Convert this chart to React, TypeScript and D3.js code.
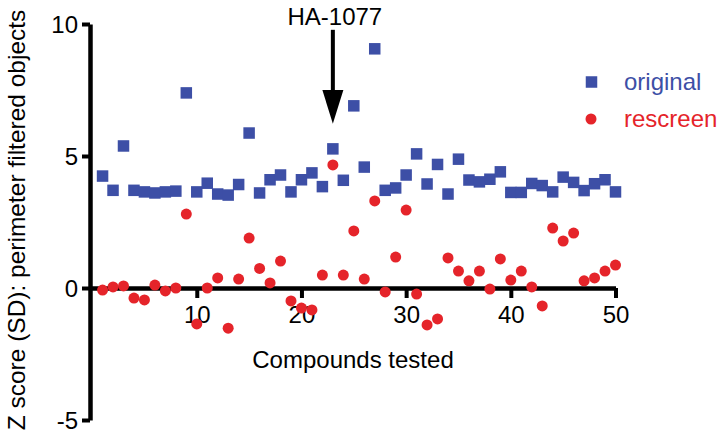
import React, { useEffect, useRef } from "react";
import * as d3 from "d3";

const compounds = d3.range(1, 51);

const original = [
  4.24, 3.7, 5.38, 3.7, 3.64, 3.6, 3.64, 3.67, 7.39, 3.64,
  3.97, 3.56, 3.52, 3.92, 5.87, 3.6, 4.1, 4.28, 3.64, 4.1,
  4.36, 3.84, 5.27, 4.08, 6.9, 4.58, 9.06, 3.7, 3.79, 4.28,
  5.08, 3.94, 4.68, 3.56, 4.88, 4.09, 4.02, 4.12, 4.4, 3.62,
  3.62, 3.96, 3.88, 3.64, 4.2, 4.0, 3.69, 3.95, 4.1, 3.64,
];

const rescreen = [
  -0.08, 0.04, 0.08, -0.38, -0.45, 0.11, -0.11, 0.0, 2.8, -1.36,
  0.0, 0.38, -1.52, 0.34, 1.89, 0.74, 0.19, 1.02, -0.49, -0.76,
  -0.83, 0.49, 4.66, 0.49, 2.16, 0.34, 3.3, -0.15, 1.17, 2.95,
  -0.23, -1.4, -1.17, 1.14, 0.64, 0.27, 0.64, -0.04, 1.1, 0.3,
  0.64, 0.04, -0.68, 2.27, 1.78, 2.08, 0.27, 0.38, 0.64, 0.87,
];

const xTicks = [10, 20, 30, 40, 50];
const yTicks = [-5, 0, 5, 10];

const BLUE = "#3d4fa6";
const RED = "#e5242a";
const FONT = "Arial, 'Liberation Sans', Helvetica, sans-serif";

const App = () => {
  const svgRef = useRef<SVGSVGElement>(null);

  useEffect(() => {
    const width = 725;
    const height = 436;
    const svg = d3.select(svgRef.current);
    svg.selectAll("*").remove();
    svg.attr("width", width).attr("height", height);

    const x = d3.scaleLinear().domain([-0.2, 50]).range([90, 615.5]);
    const y = d3.scaleLinear().domain([-5, 10]).range([420, 24]);

    // y axis
    const yAxis = d3
      .axisLeft(y)
      .tickValues(yTicks)
      .tickFormat((d) => String(d))
      .tickSize(8)
      .tickPadding(4)
      .tickSizeOuter(0);
    const yg = svg
      .append("g")
      .attr("transform", `translate(${x(-0.2)},0)`)
      .call(yAxis);
    yg.select(".domain").attr("stroke", "#000").attr("stroke-width", 4.5);
    yg.selectAll(".tick line").attr("stroke", "#000").attr("stroke-width", 4);
    yg.selectAll("text")
      .style("font-size", "24px")
      .style("font-family", FONT)
      .attr("fill", "#000")
      .attr("dy", "0.36em");

    // x axis at y = 0
    const xAxis = d3
      .axisBottom(x)
      .tickValues(xTicks)
      .tickSize(10)
      .tickPadding(8)
      .tickSizeOuter(0);
    const xg = svg
      .append("g")
      .attr("transform", `translate(0,${y(0)})`)
      .call(xAxis);
    xg.select(".domain").attr("stroke", "#000").attr("stroke-width", 4.5);
    xg.selectAll(".tick line").attr("stroke", "#000").attr("stroke-width", 4);
    xg.selectAll("text")
      .style("font-size", "24px")
      .style("font-family", FONT)
      .attr("fill", "#000");

    // axis titles
    svg
      .append("text")
      .attr("x", 353)
      .attr("y", 368)
      .attr("text-anchor", "middle")
      .style("font-size", "24px")
      .style("font-family", FONT)
      .text("Compounds tested");

    svg
      .append("text")
      .attr("transform", `translate(25,${(y(-5) + y(10)) / 2 - 2}) rotate(-90)`)
      .attr("text-anchor", "middle")
      .style("font-size", "24.5px")
      .style("font-family", FONT)
      .text("Z score (SD): perimeter filtered objects");

    // original (squares)
    const sq = 11.5;
    svg
      .append("g")
      .selectAll("rect")
      .data(compounds)
      .enter()
      .append("rect")
      .attr("x", (d) => x(d) - sq / 2)
      .attr("y", (d, i) => y(original[i]) - sq / 2)
      .attr("width", sq)
      .attr("height", sq)
      .attr("fill", BLUE);

    // rescreen (circles)
    svg
      .append("g")
      .selectAll("circle")
      .data(compounds)
      .enter()
      .append("circle")
      .attr("cx", (d) => x(d))
      .attr("cy", (d, i) => y(rescreen[i]))
      .attr("r", 5.5)
      .attr("fill", RED);

    // HA-1077 arrow
    const ax = x(23);
    svg
      .append("line")
      .attr("x1", ax)
      .attr("x2", ax)
      .attr("y1", y(9.78))
      .attr("y2", y(7.4))
      .attr("stroke", "#000")
      .attr("stroke-width", 4);
    svg
      .append("path")
      .attr(
        "d",
        `M${ax - 10.5},${y(7.5)}L${ax + 10.5},${y(7.5)}L${ax},${y(6.22)}Z`
      )
      .attr("fill", "#000");
    svg
      .append("text")
      .attr("x", ax + 2)
      .attr("y", 25)
      .attr("text-anchor", "middle")
      .style("font-size", "24px")
      .style("font-family", FONT)
      .text("HA-1077");

    // legend
    const legend = svg.append("g").attr("transform", "translate(591,0)");
    legend
      .append("rect")
      .attr("x", -sq / 2 + 0.5)
      .attr("y", 82 - sq / 2)
      .attr("width", sq)
      .attr("height", sq)
      .attr("fill", BLUE);
    legend
      .append("circle")
      .attr("cx", 0)
      .attr("cy", 119)
      .attr("r", 5.5)
      .attr("fill", RED);
    legend
      .append("text")
      .attr("x", 33)
      .attr("y", 90)
      .attr("fill", BLUE)
      .style("font-size", "24px")
      .style("font-family", FONT)
      .text("original");
    legend
      .append("text")
      .attr("x", 33)
      .attr("y", 127)
      .attr("fill", RED)
      .style("font-size", "24px")
      .style("font-family", FONT)
      .text("rescreen");
  }, []);

  return (
    <div style={{ position: "absolute", left: 0, top: 0, background: "#fff" }}>
      <svg ref={svgRef} style={{ display: "block" }}></svg>
    </div>
  );
};

export default App;
